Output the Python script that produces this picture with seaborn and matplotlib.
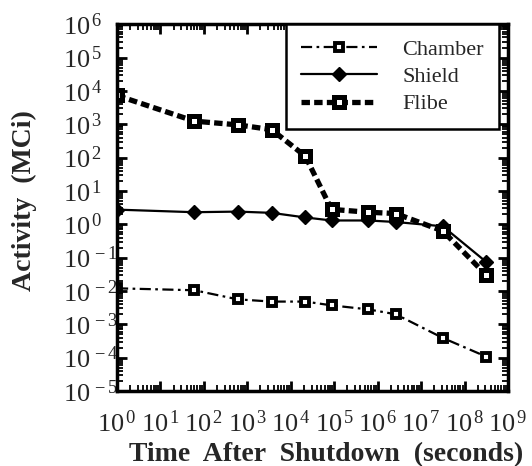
import numpy as np
import pandas as pd
import matplotlib
matplotlib.use("Agg")
import matplotlib.pyplot as plt
import seaborn as sns
from matplotlib.ticker import LogLocator, NullFormatter, FuncFormatter, FixedLocator

# time points (s): 1 s, 1 min, 10 min, 1 h, 6 h, 1 d, 1 wk, 1 mo, 1 yr, 10 yr
times = [1, 60, 600, 3600, 21600, 86400, 6.05e5, 2.6e6, 3.15e7, 3.15e8]
chamber = [1.2e-2, 1.05e-2, 5.6e-3, 4.8e-3, 4.8e-3, 3.7e-3, 2.8e-3, 2.0e-3, 3.9e-4, 1.07e-4]
shield = [2.75, 2.3, 2.4, 2.2, 1.6, 1.3, 1.3, 1.17, 0.87, 0.074]
flibe = [7.3e3, 1.24e3, 960, 690, 110, 2.8, 2.3, 2.1, 0.63, 0.03]

series_names = ["Chamber", "Shield", "Flibe"]
x_decades = list(range(0, 10))
y_decades = list(range(-5, 7))

df = pd.DataFrame({
    "time": times * 3,
    "activity": chamber + shield + flibe,
    "component": np.repeat(series_names, len(times)),
})

sns.set_style("ticks")
plt.rcParams["font.family"] = ["Liberation Serif", "DejaVu Serif"]
plt.rcParams["mathtext.fontset"] = "custom"
plt.rcParams["mathtext.rm"] = "Liberation Serif"
plt.rcParams["mathtext.it"] = "Liberation Serif:italic"
plt.rcParams["mathtext.bf"] = "Liberation Serif:bold"

fig = plt.figure(figsize=(5.32, 4.66), dpi=100)
ax = fig.add_axes([0.22, 0.161, 0.735, 0.787])

styles = {
    "Chamber": dict(linestyle=(0, (5, 2, 1.2, 2)), linewidth=1.6, marker="s",
                    markersize=6.2, markerfacecolor="white", markeredgewidth=2.8),
    "Shield": dict(linestyle="-", linewidth=1.6, marker="D", markersize=7.5,
                   markerfacecolor="black", markeredgewidth=1),
    "Flibe": dict(linestyle=(0, (1.6, 0.8)), linewidth=3.8, marker="s",
                  markersize=6.8, markerfacecolor="white", markeredgewidth=3.6),
}

for name in series_names:
    sub = df[df["component"] == name]
    sns.lineplot(data=sub, x="time", y="activity", ax=ax, color="black",
                 markeredgecolor="black", label=name, **styles[name])

ax.set_xscale("log")
ax.set_yscale("log")
ax.set_xlim(10.0 ** x_decades[0], 10.0 ** x_decades[-1])
ax.set_ylim(10.0 ** y_decades[0], 10.0 ** y_decades[-1])

pow_fmt = FuncFormatter(lambda v, p: r"$\mathdefault{10^{\,%d}}$" % round(np.log10(v)))
for axis, decs in ((ax.xaxis, x_decades), (ax.yaxis, y_decades)):
    axis.set_major_locator(FixedLocator([10.0 ** d for d in decs]))
    axis.set_minor_locator(LogLocator(base=10, subs=np.arange(2, 10), numticks=20))
    axis.set_major_formatter(pow_fmt)
    axis.set_minor_formatter(NullFormatter())

ax.tick_params(which="major", direction="in", length=7, width=2,
               top=True, right=True, labelsize=19, color="black")
ax.tick_params(which="minor", direction="in", length=4, width=1.3,
               top=True, right=True, color="black")
ax.tick_params(axis="x", which="major", pad=14)
ax.tick_params(axis="y", which="major", pad=39)
plt.setp(ax.get_yticklabels(), ha="left")

for sp in ax.spines.values():
    sp.set_linewidth(2.5)
    sp.set_color("black")

ax.set_xlabel("Time  After  Shutdown  (seconds)", fontsize=20, fontweight="bold")
ax.set_ylabel("Activity  (MCi)", fontsize=20, fontweight="bold")
ax.xaxis.set_label_coords(0.535, -0.14)
ax.yaxis.set_label_coords(-0.205, 0.52)

leg = ax.legend(loc="upper right", bbox_to_anchor=(0.977, 1.0), borderaxespad=0,
                fontsize=16, frameon=True, fancybox=False, handlelength=3.4,
                handletextpad=1.15, borderpad=0.68, labelspacing=0.3)
leg.get_frame().set_edgecolor("black")
leg.get_frame().set_linewidth(1.8)
leg.get_frame().set_alpha(1)

fig.savefig("out.png", dpi=100)
